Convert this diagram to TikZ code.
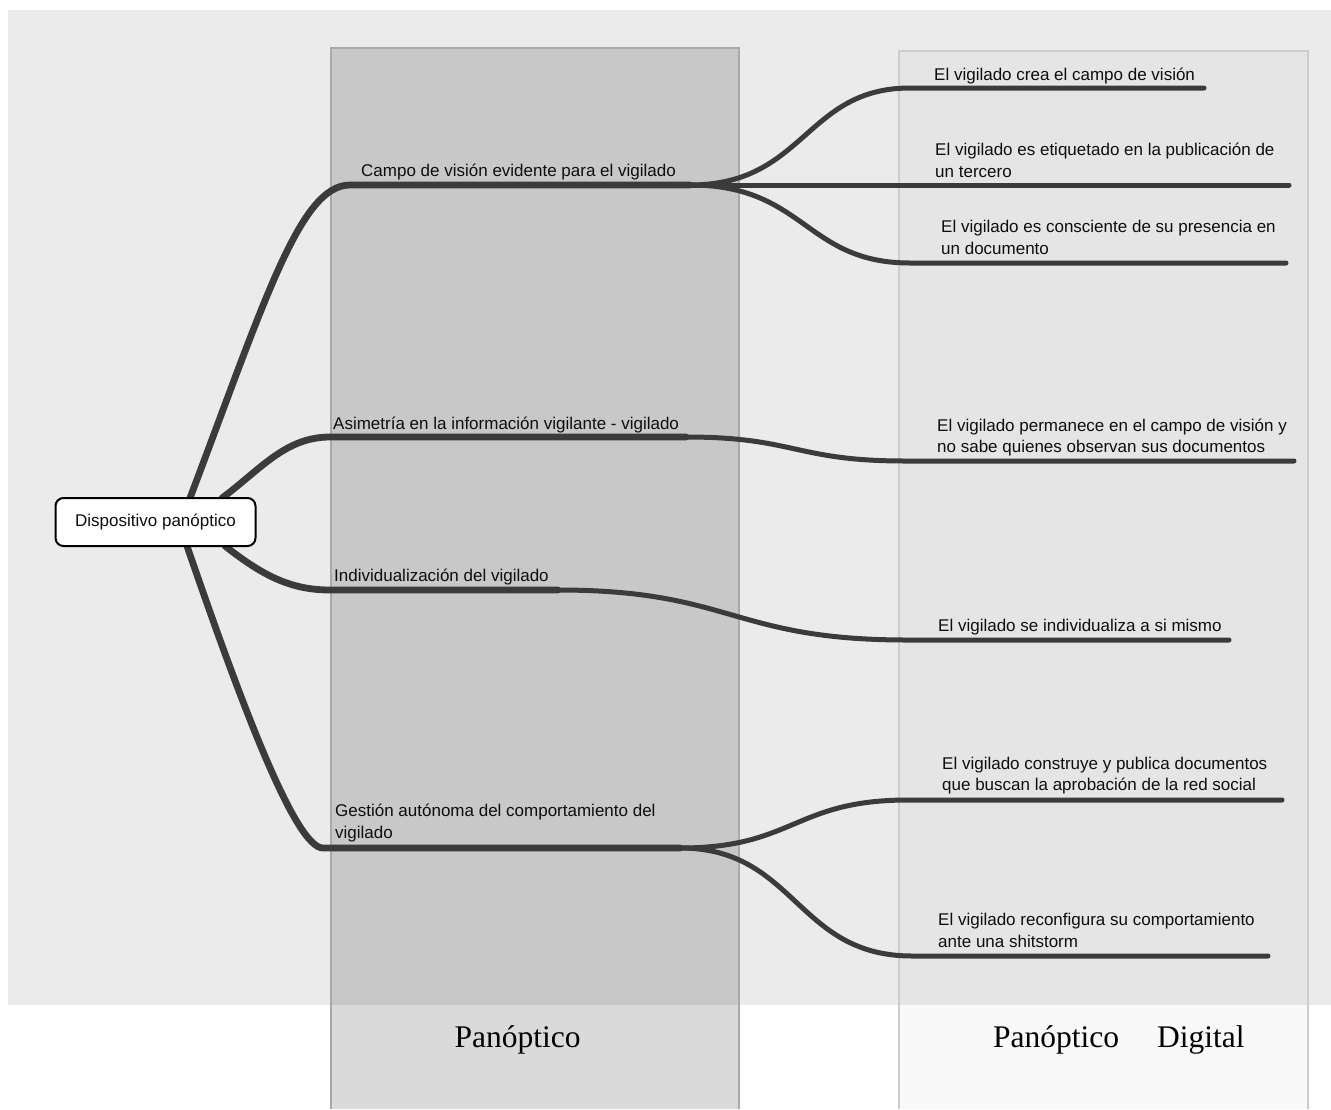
\documentclass[tikz,border=0pt]{standalone}
\usepackage{fontspec}
\setmainfont{Liberation Sans}
\newfontfamily\tnr{Liberation Serif}
\usetikzlibrary{calc}
\definecolor{bg}{HTML}{EBEBEB}
\definecolor{conn}{HTML}{3B3B3B}
\definecolor{txt}{HTML}{0E0E0E}
\definecolor{colAb}{HTML}{A9A9A9}
\definecolor{colBb}{HTML}{CDCDCD}
\pgfdeclarelayer{bgfill}
\pgfdeclarelayer{conns}
\pgfsetlayers{bgfill,conns,main}
\begin{document}
\begin{tikzpicture}[x=1pt,y=-1pt,
  lvlone/.style={draw=conn, line width=6.8pt, line cap=round},
  lvltwo/.style={draw=conn, line width=5pt, line cap=round},
  topic/.style={anchor=base west, inner sep=0pt, align=left, text=txt, font=\fontsize{17}{21.5}\selectfont},
  rootbox/.style={draw=black, line width=2pt, rounded corners=8pt, fill=white, minimum width=200pt, minimum height=48pt, inner sep=0pt, text=txt, font=\fontsize{17}{21}\selectfont},
  colname/.style={inner sep=0pt, font=\tnr\fontsize{31.5}{36}\selectfont, text=black}
]
\useasboundingbox (0,0) rectangle (1331,1109);
\begin{pgfonlayer}{bgfill}
\fill[white] (0,0) rectangle (1331,1109);
\fill[bg] (8,10) rectangle (1331,1005);
\fill[black, fill opacity=0.145] (331,48) rectangle (739,1109);
\draw[colAb, line width=1.5pt] (331,1109) -- (331,48) -- (739,48) -- (739,1109);
\fill[black, fill opacity=0.025] (899,51) rectangle (1308,1109);
\draw[colBb, line width=1.5pt] (899,1109) -- (899,51) -- (1308,51) -- (1308,1109);
\end{pgfonlayer}

% root
\node[rootbox] (root) at (155.5,522) {Dispositivo panóptico};

% junction coordinates
\coordinate (rA) at (190,498);
\coordinate (rB) at (222,498);
\coordinate (rC) at (225,546);
\coordinate (rD) at (187,546);
\coordinate (aL) at (350,185);  \coordinate (aR) at (690,185);
\coordinate (bL) at (330,437);  \coordinate (bR) at (686,437);
\coordinate (cL) at (330,590);  \coordinate (cR) at (558,590);
\coordinate (dL) at (323,848);  \coordinate (dR) at (680,848);
\coordinate (a1L) at (910,88);  \coordinate (a1R) at (1204,88);
\coordinate (a2R) at (1289,185);
\coordinate (a3L) at (910,263); \coordinate (a3R) at (1286,263);
\coordinate (b1L) at (905,461); \coordinate (b1R) at (1294,461);
\coordinate (c1L) at (907,640); \coordinate (c1R) at (1229,640);
\coordinate (d1L) at (908,800); \coordinate (d1R) at (1282,800);
\coordinate (d2L) at (912,956); \coordinate (d2R) at (1268,956);

\begin{pgfonlayer}{conns}
\draw[lvlone] (rA) .. controls (265,300) and (300,185) .. (aL) -- (aR);
\draw[lvlone] (rB) .. controls (260,470) and (285,437) .. (bL) -- (bR);
\draw[lvlone] (rC) .. controls (262,575) and (290,590) .. (cL) -- (cR);
\draw[lvlone] (rD) .. controls (240,700) and (295,848) .. (dL) -- (dR);
\draw[lvltwo] (aR) .. controls (805,185) and (805,88) .. (a1L) -- (a1R);
\draw[lvltwo] (aR) -- (a2R);
\draw[lvltwo] (aR) .. controls (805,185) and (805,263) .. (a3L) -- (a3R);
\draw[lvltwo] (bR) .. controls (795,437) and (795,461) .. (b1L) -- (b1R);
\draw[lvltwo] (cR) .. controls (732,590) and (732,640) .. (c1L) -- (c1R);
\draw[lvltwo] (dR) .. controls (794,848) and (794,800) .. (d1L) -- (d1R);
\draw[lvltwo] (dR) .. controls (796,848) and (796,956) .. (d2L) -- (d2R);
\end{pgfonlayer}

% topic texts
\node[topic] (tA) at (361,176.5) {Campo de visión evidente para el vigilado};
\node[topic] (tB) at (333,429) {Asimetría en la información vigilante - vigilado};
\node[topic] (tC) at (334,581) {Individualización del vigilado};
\node[topic] (tD) at (335,838) {Gestión autónoma del comportamiento del\\vigilado};
\node[topic] (tA1) at (934,80) {El vigilado crea el campo de visión};
\node[topic] (tA2) at (935,177) {El vigilado es etiquetado en la publicación de\\un tercero};
\node[topic] (tA3) at (941,254) {El vigilado es consciente de su presencia en\\un documento};
\node[topic] (tB1) at (937,452.5) {El vigilado permanece en el campo de visión y\\no sabe quienes observan sus documentos};
\node[topic] (tC1) at (938,631) {El vigilado se individualiza a si mismo};
\node[topic] (tD1) at (942,790.5) {El vigilado construye y publica documentos\\que buscan la aprobación de la red social};
\node[topic] (tD2) at (938,947) {El vigilado reconfigura su comportamiento\\ante una shitstorm};

% column names
\node[colname, anchor=base] (nP) at (517.5,1047) {Panóptico};
\node[colname, anchor=base west] (nD) at (993,1047) {Panóptico\hspace{38pt}Digital};
\end{tikzpicture}
\end{document}
